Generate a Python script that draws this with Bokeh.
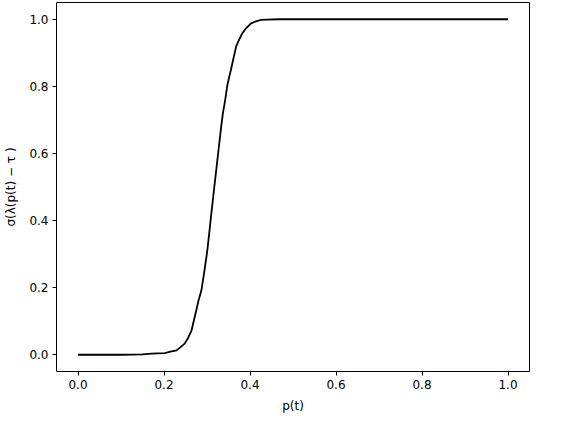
from bokeh.plotting import figure
from bokeh.models import Range1d, FixedTicker, PrintfTickFormatter
from bokeh.embed import file_html
from bokeh.resources import INLINE

# Curve values
p_t = [0.0, 0.05, 0.10, 0.15, 0.171, 0.185, 0.202, 0.215, 0.229, 0.238,
       0.248, 0.256, 0.264, 0.27, 0.275, 0.28, 0.287, 0.294, 0.3007, 0.305,
       0.31, 0.317, 0.325, 0.333, 0.337, 0.342, 0.347, 0.352, 0.356, 0.36,
       0.368, 0.375, 0.383, 0.39, 0.4025, 0.41, 0.4256, 0.44, 0.468, 0.5,
       0.6, 0.7, 0.8, 0.9, 1.0]
sigma = [0.0, 0.0, 0.0, 0.001, 0.003, 0.004, 0.005, 0.009, 0.013, 0.022,
         0.033, 0.05, 0.072, 0.105, 0.132, 0.16, 0.192, 0.25, 0.31, 0.36,
         0.42, 0.5, 0.59, 0.68, 0.72, 0.757, 0.801, 0.83, 0.851, 0.875,
         0.920, 0.94, 0.960, 0.972, 0.988, 0.992, 0.998, 0.999, 1.0, 1.0,
         1.0, 1.0, 1.0, 1.0, 1.0]

x_ticks = [0.0, 0.2, 0.4, 0.6, 0.8, 1.0]
y_ticks = [0.0, 0.2, 0.4, 0.6, 0.8, 1.0]
x_label = "p(t)"
y_label = "σ(λ(p(t) − τ )"

FONT = "DejaVu Sans"

p = figure(width=570, height=432, output_backend="svg", toolbar_location=None,
           x_range=Range1d(-0.05, 1.05), y_range=Range1d(-0.05, 1.05),
           min_border_left=56, min_border_right=41, min_border_top=2,
           min_border_bottom=61)

p.line(p_t, sigma, line_color="black", line_width=1.8)

p.xgrid.visible = False
p.ygrid.visible = False
p.outline_line_color = "black"
p.outline_line_width = 1
p.outline_line_alpha = 1.0
p.background_fill_color = "white"
p.border_fill_color = "white"

for ax, ticks, lab, std in ((p.xaxis[0], x_ticks, x_label, 7),
                            (p.yaxis[0], y_ticks, y_label, 8)):
    ax.ticker = FixedTicker(ticks=ticks, minor_ticks=[])
    ax.formatter = PrintfTickFormatter(format="%.1f")
    ax.axis_line_color = None
    ax.major_tick_in = 0
    ax.major_tick_out = 4
    ax.major_tick_line_color = "black"
    ax.minor_tick_line_color = None
    ax.major_label_standoff = 4
    ax.major_label_text_font = FONT
    ax.major_label_text_font_size = "12px"
    ax.major_label_text_color = "black"
    ax.axis_label = lab
    ax.axis_label_text_font = FONT
    ax.axis_label_text_font_size = "12px"
    ax.axis_label_text_font_style = "normal"
    ax.axis_label_text_color = "black"
    ax.axis_label_standoff = std

open("out.html", "w").write(file_html(p, INLINE))
